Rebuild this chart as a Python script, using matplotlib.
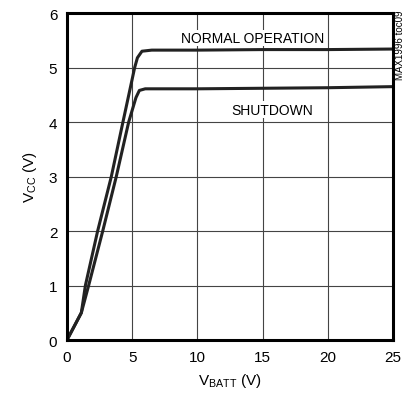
import matplotlib
matplotlib.use("Agg")
import matplotlib.pyplot as plt

# data
vbatt_normal = [0, 1.1, 1.41, 2.35, 3.4, 4.29, 5.19, 5.4, 5.75, 6.5, 10, 15, 20, 25]
vcc_normal = [0, 0.5, 1.0, 2.0, 3.0, 4.0, 5.0, 5.18, 5.3, 5.32, 5.32, 5.33, 5.33, 5.34]
vbatt_shut = [0, 1.1, 1.66, 2.74, 3.78, 4.73, 5.29, 5.55, 6.0, 10, 15, 20, 25]
vcc_shut = [0, 0.5, 1.0, 2.0, 3.0, 4.0, 4.45, 4.58, 4.61, 4.61, 4.62, 4.63, 4.65]
xticks = [0, 5, 10, 15, 20, 25]
yticks = [0, 1, 2, 3, 4, 5, 6]

plt.rcParams['font.family'] = ['Liberation Sans Narrow', 'Liberation Sans', 'DejaVu Sans']

fig = plt.figure(figsize=(4.07, 4.02), dpi=100)
ax = fig.add_axes([0.1646, 0.1517, 0.801, 0.8133])

ax.plot(vbatt_normal, vcc_normal, color='#222222', lw=2.2, solid_joinstyle='round')
ax.plot(vbatt_shut, vcc_shut, color='#222222', lw=2.2, solid_joinstyle='round')

ax.set_xlim(0, 25)
ax.set_ylim(0, 6)
ax.set_xticks(xticks)
ax.set_yticks(yticks)
ax.grid(True, color='#444444', lw=0.8)
ax.tick_params(length=0, labelsize=11, pad=7)
for s in ax.spines.values():
    s.set_linewidth(2.2)

ax.set_xlabel('V$_{\\mathregular{BATT}}$ (V)', fontsize=11, labelpad=5)
ax.set_ylabel('V$_{\\mathregular{CC}}$ (V)', fontsize=11, labelpad=7)

# curve labels
ax.text(14.2, 5.47, 'NORMAL OPERATION', ha='center', va='baseline', fontsize=10,
        bbox=dict(facecolor='white', edgecolor='none', pad=1))
ax.text(15.7, 4.15, 'SHUTDOWN', ha='center', va='baseline', fontsize=10,
        bbox=dict(facecolor='white', edgecolor='none', pad=1))
fig.text(0.984, 0.975, 'MAX1996 toc09', rotation=90, ha='center', va='top', fontsize=7)

fig.savefig('out.png', dpi=100)
